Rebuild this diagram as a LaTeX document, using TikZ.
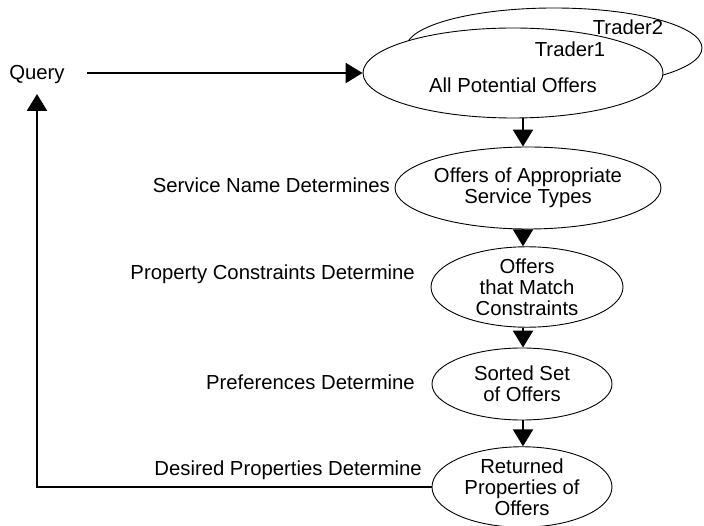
\documentclass[tikz,border=0pt]{standalone}
\usepackage{fontspec}
\setmainfont{Liberation Sans}
\usetikzlibrary{arrows.meta,shapes.geometric}
\begin{document}
\begin{tikzpicture}[x=1pt,y=-1pt,
  every node/.style={font=\fontsize{20.3}{21}\selectfont},
  oval/.style={draw, ellipse, line width=0.9pt, inner sep=0pt, fill=white, align=center},
  txt/.style={anchor=base, inner sep=0pt},
  lbl/.style={anchor=base east, inner sep=0pt},
  arr/.style={line width=2.5pt, -{Triangle[length=17pt,width=20pt]}}]
\useasboundingbox (0,0) rectangle (704,526);
\node[oval, minimum width=296pt, minimum height=80pt] (t2) at (554,48) {};
\node[oval, minimum width=300pt, minimum height=90pt] (t1) at (513,73) {};
\node[txt] (t2l) at (628,35) {Trader2};
\node[txt] (t1l) at (570,57) {Trader1};
\node[txt] (apo) at (513,93) {All Potential Offers};
\node[txt] (query) at (37,80) {Query};

\node[oval, minimum width=244pt, minimum height=82pt] (e2) at (528,188) {Offers of Appropriate\\Service Types};
\node[oval, minimum width=192pt, minimum height=80pt] (e3) at (527,287) {Offers\\that Match\\Constraints};
\node[oval, minimum width=180pt, minimum height=72pt] (e4) at (522,384) {Sorted Set\\of Offers};
\node[oval, minimum width=180pt, minimum height=72pt] (e5) at (522,487) {Returned\\Properties of\\Offers};

\node[lbl] (l1) at (390,193) {Service Name Determines};
\node[lbl] (l2) at (415,280) {Property Constraints Determine};
\node[lbl] (l3) at (415,390) {Preferences Determine};
\node[lbl] (l4) at (422,475) {Desired Properties Determine};

\coordinate (ax) at (523,0);
\coordinate (qs) at (87,73);
\coordinate (fc) at (37,487);
\coordinate (ft) at (37,94);

\draw[arr] (qs) -- (t1.west);
\draw[arr] (t1.south -| ax) -- (e2.north -| ax);
\draw[arr] (e2.south -| ax) -- (e3.north -| ax);
\draw[arr] (e3.south -| ax) -- (e4.north -| ax);
\draw[arr] (e4.south -| ax) -- (e5.north -| ax);
\draw[arr, line join=miter] (e5.west) -- (fc) -- (ft);
\end{tikzpicture}
\end{document}
